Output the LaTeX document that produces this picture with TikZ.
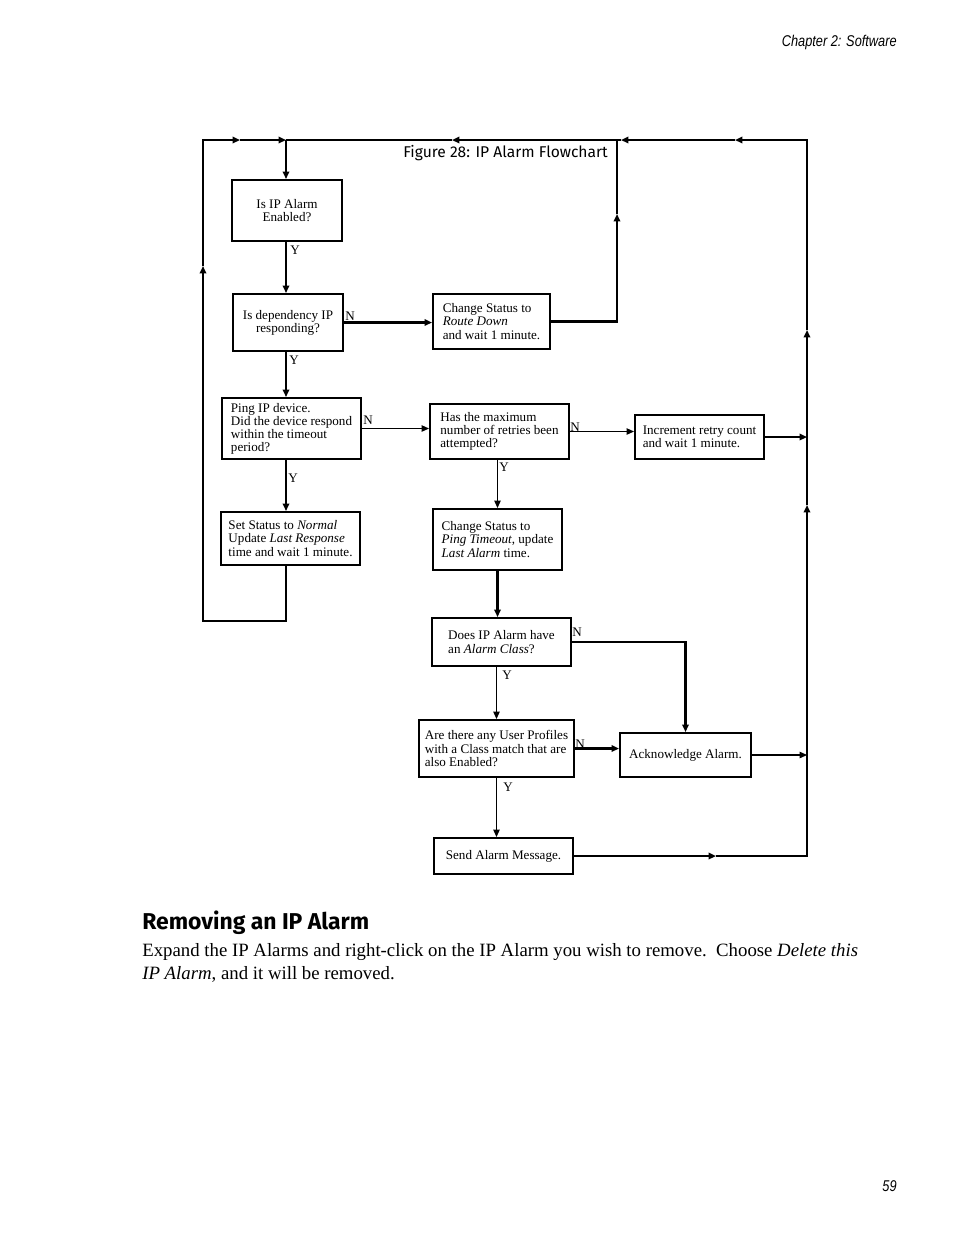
\documentclass[tikz,border=0pt]{standalone}
\usepackage{fontspec}
\setmainfont{Liberation Serif}
\newfontfamily\capfont{Fira Sans}
\newfontfamily\hdrfont[FakeStretch=0.82]{Liberation Sans}
\usetikzlibrary{arrows.meta}
\newcommand\pxl{0.6415pt}
\begin{document}
\begin{tikzpicture}[x=0.6415pt,y=-0.6415pt,
  box/.style={draw, line width=1.3pt, align=left, inner sep=0pt, font=\fontsize{8.4}{8.4}\selectfont},
  cbox/.style={box, align=center},
  thk/.style={line width=1.45pt},
  thn/.style={line width=0.7pt},
  tip/.style={-{Triangle[length=4.8pt,width=4.2pt]}},
  lbl/.style={font=\fontsize{8.4}{8.4}\selectfont, inner sep=0pt}
]
\useasboundingbox (0,0) rectangle (954,1235);

% boxes
\node[cbox, minimum width=110*\pxl, minimum height=61*\pxl] (b1) at (287,210.5) {Is IP Alarm\\Enabled?};
\node[cbox, minimum width=110*\pxl, minimum height=57*\pxl] (b2) at (288,322.5) {Is dependency IP\\responding?};
\node[box, minimum width=117*\pxl, minimum height=55*\pxl] (b3) at (491.5,321.5) {Change Status to\\\textit{Route Down}\\and wait 1 minute.};
\node[box, minimum width=139*\pxl, minimum height=61*\pxl] (b4) at (291.5,428.5) {Ping IP device.\\Did the device respond\\within the timeout\\period?};
\node[box, minimum width=139*\pxl, minimum height=55*\pxl] (b5) at (499.5,431.5) {Has the maximum\\number of retries been\\attempted?};
\node[box, minimum width=129*\pxl, minimum height=44*\pxl] (b6) at (699.5,437) {Increment retry count\\and wait 1 minute.};
\node[box, minimum width=139*\pxl, minimum height=53*\pxl] (b7) at (290.5,538.5) {Set Status to \textit{Normal}\\Update \textit{Last Response}\\time and wait 1 minute.};
\node[box, minimum width=129*\pxl, minimum height=61*\pxl] (b8) at (497.5,539.5) {Change Status to\\\textit{Ping Timeout}, update\\\textit{Last Alarm} time.};
\node[box, minimum width=139*\pxl, minimum height=48*\pxl] (b9) at (501.5,642) {Does IP Alarm have\\an \textit{Alarm Class}?};
\node[box, minimum width=155*\pxl, minimum height=57*\pxl] (b10) at (496.5,748.5) {Are there any User Profiles\\with a Class match that are\\also Enabled?};
\node[box, minimum width=131*\pxl, minimum height=44*\pxl] (b11) at (685.5,755) {Acknowledge Alarm.};
\node[box, minimum width=139*\pxl, minimum height=36*\pxl] (b12) at (503.5,856) {Send Alarm Message.};

% helper coordinates
\coordinate (cx) at (286,0);
\coordinate (rx) at (807,0);
\coordinate (lb) at (286,621);
\coordinate (ll) at (203,621);
\coordinate (la) at (203,266);
\coordinate (tl) at (203,140);
\coordinate (ta) at (240,140);
\coordinate (tj) at (286,140);
\coordinate (ta2) at (452,140);
\coordinate (tr1) at (617,140);
\coordinate (ta3) at (621,140);
\coordinate (ta4) at (735,140);
\coordinate (tr) at (807,140);
\coordinate (ra1) at (807,330);
\coordinate (ra2) at (807,505);
\coordinate (ba) at (716,0);
\coordinate (mr) at (617,0);
\coordinate (ma) at (617,214);

% main loop (left)
\draw[thk,tip] (b7.south -| cx) -- (lb) -- (ll) -- (la);
\draw[thk,tip] (la) -- (tl) -- (ta);
\draw[thk,tip] (ta) -- (tj);
\draw[thk,tip] (tj) -- (b1.north -| cx);

% right loop
\draw[thk,tip] (b12.east) -- (b12.east -| ba);
\draw[thk,tip] (b12.east -| ba) -- (b12.east -| rx) -- (ra2);
\draw[thk,tip] (ra2) -- (ra1);
\draw[thk,tip] (ra1) -- (tr) -- (ta4);
\draw[thk,tip] (ta4) -- (ta3);
\draw[thk,tip] (ta3) -- (ta2);
\draw[thk] (ta2) -- (tj);
\draw[thk,tip] (b3.east) -- (b3.east -| mr) -- (ma);
\draw[thk] (ma) -- (tr1);

% connectors
\draw[thk,tip] (b1.south -| cx) -- (b2.north -| cx);
\draw[thk,tip] (b2.south -| cx) -- (b4.north -| cx);
\draw[thk,tip] (b4.south -| cx) -- (b7.north -| cx);
\draw[thk,tip] (b2.east) -- (b2.east -| b3.west);
\draw[thn,tip] (b4.east) -- (b4.east -| b5.west);
\draw[thn,tip] (b5.east) -- (b5.east -| b6.west);
\draw[thn,tip] (b8.north |- b5.south) -- (b8.north);
\draw[thk,tip] (b8.south) -- (b8.south |- b9.north);
\draw[thk,tip] (b9.east) -- (b9.east -| b11.north) -- (b11.north);
\draw[thn,tip] (b9.south -| b10.north) -- (b10.north);
\draw[thk,tip] (b10.east) -- (b10.east -| b11.west);
\draw[thn,tip] (b10.south) -- (b10.south |- b12.north);
\draw[thn,tip] (b11.east) -- (b11.east -| rx);
\draw[thk,tip] (b6.east) -- (b6.east -| rx);

% Y / N labels
\node[lbl] (y1) at (295,250) {Y};
\node[lbl] (n2) at (350,316) {N};
\node[lbl] (y2) at (294,360) {Y};
\node[lbl] (n4) at (368,420) {N};
\node[lbl] (y4) at (293,478) {Y};
\node[lbl] (n5) at (575,427) {N};
\node[lbl] (y5) at (504,467) {Y};
\node[lbl] (n9) at (577,632) {N};
\node[lbl] (y9) at (507,675) {Y};
\node[lbl] (n10) at (580,744) {N};
\node[lbl] (y10) at (508,787) {Y};

% page texts
\node[font=\capfont\fontsize{10}{12}\selectfont, anchor=base west, inner sep=0pt] (cap) at (403,157) {Figure 28: IP Alarm Flowchart};
\node[font=\hdrfont\itshape\fontsize{10}{12}\selectfont, anchor=base east, inner sep=0pt] (hdr) at (897,46) {Chapter 2: Software};
\node[font=\hdrfont\itshape\fontsize{10}{12}\selectfont, anchor=base east, inner sep=0pt] (pg) at (897,1191) {59};
\node[font=\capfont\bfseries\fontsize{14.7}{18}\selectfont, anchor=base west, inner sep=0pt] (hd) at (142,929) {Removing an IP Alarm};
\node[font=\fontsize{12.05}{14}\selectfont, anchor=base west, inner sep=0pt] (bd1) at (142,956) {Expand the IP Alarms and right-click on the IP Alarm you wish to remove.\ \ Choose \textit{Delete this}};
\node[font=\fontsize{12.05}{14}\selectfont, anchor=base west, inner sep=0pt] (bd2) at (142,979) {\textit{IP Alarm}, and it will be removed.};
\end{tikzpicture}
\end{document}
